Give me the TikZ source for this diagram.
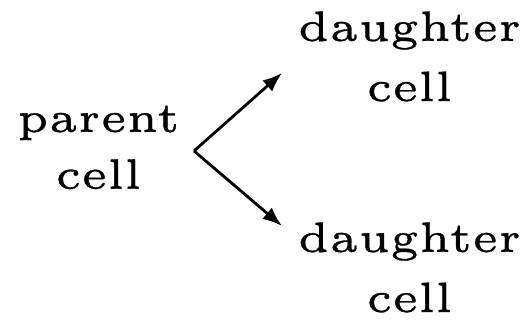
\documentclass[tikz,border=0pt]{standalone}
\usepackage{fontspec}
\newfontfamily\lmfive[FakeBold=0.8]{lmroman5-regular.otf}
\usetikzlibrary{arrows.meta}
\begin{document}
\begin{tikzpicture}[x=0.118pt,y=-0.118pt,
  lbl/.style={align=center,inner sep=0pt,font=\lmfive\fontsize{5}{7.1}\selectfont},
  arr/.style={line width=0.33pt,-{Latex[length=2.3pt,width=1.75pt]}}]
\useasboundingbox (0,0) rectangle (528,322);
\node[lbl,font=\lmfive\fontsize{5}{6.7}\selectfont] (parent) at (98.5,147.5) {parent\\cell};
\node[lbl] (d1) at (409.5,56.5) {daughter\\cell};
\node[lbl] (d2) at (409.5,267.5) {daughter\\cell};
\coordinate (split) at (194,151);
\coordinate (t1) at (282,73);
\coordinate (t2) at (282,226);
\draw[arr] (split) -- (t1);
\draw[arr] (split) -- (t2);
\end{tikzpicture}
\end{document}
